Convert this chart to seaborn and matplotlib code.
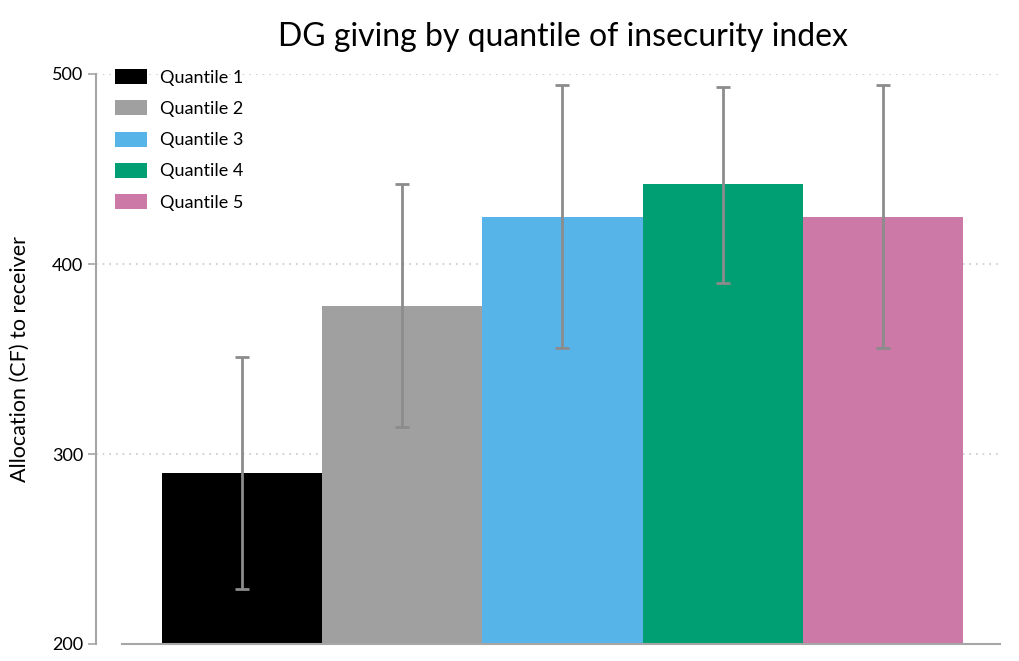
import matplotlib
matplotlib.use("Agg")
import matplotlib.pyplot as plt
import matplotlib.patches as mpatches
import seaborn as sns
import pandas as pd
import numpy as np

# Mean allocation per quantile with confidence bounds
quantiles = ["Quantile 1", "Quantile 2", "Quantile 3", "Quantile 4", "Quantile 5"]
means = [290, 378, 425, 442, 425]
lower = [229, 314, 356, 390, 356]
upper = [351, 442, 494, 493, 494]
colors = ["#000000", "#a0a0a0", "#56b4e9", "#009e73", "#cc79a7"]
yticks = [200, 300, 400, 500]

sns.set_theme(style="white")
plt.rcParams["font.family"] = ["Lato", "DejaVu Sans"]
plt.rcParams["text.color"] = "black"
plt.rcParams["axes.labelcolor"] = "black"
plt.rcParams["ytick.color"] = "black"

df = pd.DataFrame({"quantile": quantiles, "mean": means})

fig = plt.figure(figsize=(10.2, 6.61), dpi=100)
ax = fig.add_axes([96 / 1020, 17 / 661, (1000 - 96) / 1020, (644 - 74) / 661])

sns.barplot(data=df, x="quantile", y="mean", hue="quantile", palette=colors,
            order=quantiles, hue_order=quantiles, width=1.0, errorbar=None,
            saturation=1, legend=False, linewidth=0, ax=ax, zorder=2)

pos = np.arange(len(quantiles))
m = np.array(means)
err = np.vstack([m - np.array(lower), np.array(upper) - m])
ax.errorbar(pos, m, yerr=err, fmt="none", ecolor="#8c8c8c", elinewidth=2,
            capsize=5, capthick=2, zorder=3)

ax.set_ylim(200, 500)
ax.set_xlim(-0.91, 4.73)
ax.set_yticks(yticks)
ax.set_yticklabels([str(t) for t in yticks], fontsize=13)
ax.set_xticks([])
ax.set_xlabel("")
ax.set_ylabel("Allocation (CF) to receiver", fontsize=15.5, labelpad=16)

for t in yticks[1:]:
    ax.axhline(t, color="#c8c8c8", linestyle=(0, (1, 3)), linewidth=1.2, zorder=1)

for s in ["top", "right"]:
    ax.spines[s].set_visible(False)
ax.spines["left"].set_color("#a6a6a6")
ax.spines["left"].set_linewidth(1.5)
ax.spines["bottom"].set_color("#a6a6a6")
ax.spines["bottom"].set_linewidth(1.5)
ax.spines["bottom"].set_bounds(-0.75, 4.73)
ax.tick_params(axis="y", length=6, width=1.2, color="#a6a6a6", pad=3, left=True)

ax.set_title("DG giving by quantile of insecurity index", fontsize=23,
             pad=20, x=(563 - 96) / 904)

handles = [mpatches.Patch(facecolor=c, edgecolor="none", label=q) for c, q in zip(colors, quantiles)]
ax.legend(handles=handles, loc="upper left", bbox_to_anchor=(0.001, 1.04),
          frameon=False, fontsize=13, handlelength=1.75, handleheight=0.9,
          labelspacing=0.8, handletextpad=0.75, borderaxespad=0.6)

fig.savefig("out.png", dpi=100)
